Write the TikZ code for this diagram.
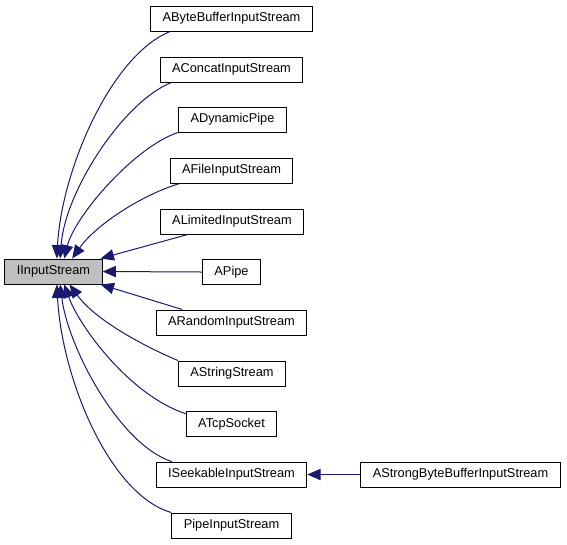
\documentclass[tikz,border=0pt]{standalone}
\usepackage{fontspec}
\setmainfont{Liberation Sans}
\usetikzlibrary{arrows.meta}
\definecolor{edgeblue}{HTML}{191970}
\tikzset{
    every node/.style={align=center,font=\fontsize{9.6}{11}\selectfont,},
    class/.style={draw,rectangle,line width=0.75pt,minimum height=18.75pt,inner xsep=9pt,inner ysep=0pt,},
    base/.style={class,fill=black!25,},
    inherit/.style={draw=edgeblue,line width=0.75pt,-{Triangle[length=10pt,width=8.5pt]},},
}

\begin{document}
\begin{tikzpicture}[x=0.75pt,y=-0.75pt]
                \useasboundingbox (0,0) rectangle (567,544);

                \node[base] (iinput_stream) at (53.5, 271.5) {IInputStream};

                \node[class] (abyte_buffer) at (231.5, 18.5) {AByteBufferInputStream};
                \node[class] (aconcat) at (231.5, 69.5) {AConcatInputStream};
                \node[class] (adynamic_pipe) at (232.5, 119.5) {ADynamicPipe};
                \node[class] (afile) at (231.5, 170.5) {AFileInputStream};
                \node[class] (alimited) at (232, 221.5) {ALimitedInputStream};
                \node[class] (apipe) at (231.5, 272) {APipe};
                \node[class] (arandom) at (231.5, 322.5) {ARandomInputStream};
                \node[class] (astring) at (232, 373.5) {AStringStream};
                \node[class] (atcp_socket) at (231.5, 424) {ATcpSocket};
                \node[class] (iseekable) at (231.5, 474.5) {ISeekableInputStream};
                \node[class] (astrong_buffer) at (460.5, 474.5) {AStrongByteBufferInputStream};
                \node[class] (pipe_input) at (231.5, 525.5) {PipeInputStream};

                % edges above the base class
                \draw[inherit] ([xshift=15pt]abyte_buffer.south west) .. controls +(202:48pt) and +(87:66pt) .. ([xshift=2.5pt]iinput_stream.north);
                \draw[inherit] ([xshift=9pt]aconcat.south west) .. controls +(201:38pt) and +(86:51pt) .. ([xshift=5pt]iinput_stream.north);
                \draw[inherit] (adynamic_pipe.south west) .. controls +(198:34pt) and +(76:33pt) .. ([xshift=8pt]iinput_stream.north);
                \draw[inherit] ([xshift=7.5pt]afile.south west) .. controls +(197:31pt) and +(55:30pt) .. ([xshift=14pt]iinput_stream.north);
                \draw[inherit] ([xshift=21pt]alimited.south west) -- ([xshift=-1.5pt]iinput_stream.north east);

                \draw[inherit] (apipe.west) -- (iinput_stream.east);

                % edges below the base class
                \draw[inherit] ([xshift=20pt]arandom.north west) -- ([xshift=-1.5pt]iinput_stream.south east);
                \draw[inherit] (astring.north west) .. controls +(157:31pt) and +(-54:32pt) .. ([xshift=12pt]iinput_stream.south);
                \draw[inherit] ([yshift=-2pt]atcp_socket.north west) .. controls +(162:43pt) and +(-70:35pt) .. ([xshift=8pt]iinput_stream.south);
                \draw[inherit] ([xshift=12pt]iseekable.north west) .. controls +(162:41pt) and +(-83:48pt) .. ([xshift=5pt]iinput_stream.south);
                \draw[inherit] (pipe_input.north west) .. controls +(164:48pt) and +(-87:71pt) .. ([xshift=2.5pt]iinput_stream.south);

                \draw[inherit] (astrong_buffer.west) -- (iseekable.east);
            \end{tikzpicture}
\end{document}
